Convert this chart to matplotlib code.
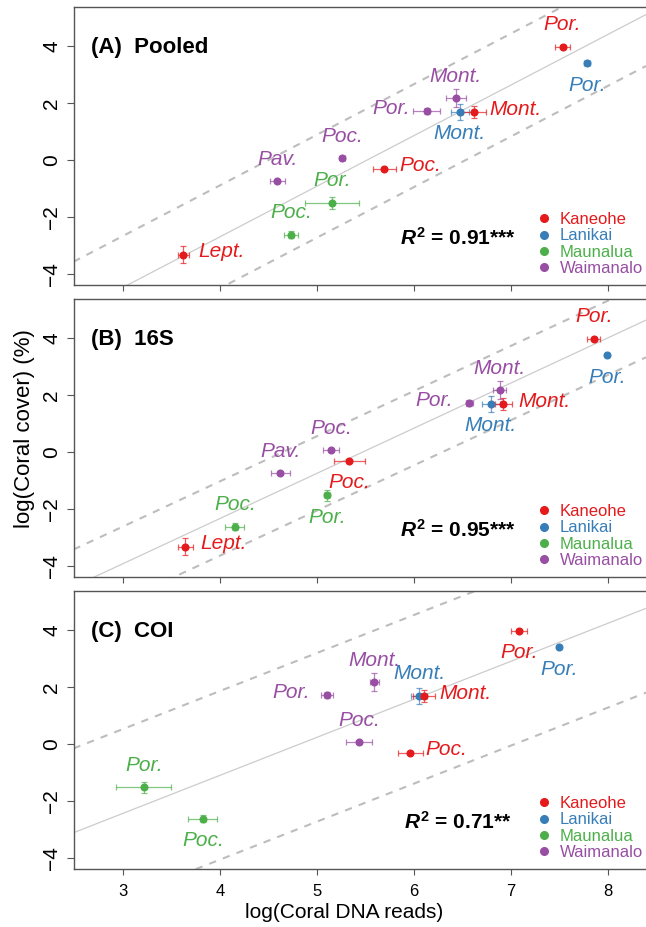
import numpy as np
import matplotlib
matplotlib.use('Agg')
import matplotlib.pyplot as plt
from matplotlib.lines import Line2D

plt.rcParams['font.family'] = ['Liberation Sans', 'DejaVu Sans']
plt.rcParams['mathtext.fontset'] = 'custom'
plt.rcParams['mathtext.it'] = 'Liberation Sans:italic:bold'
plt.rcParams['mathtext.bf'] = 'Liberation Sans:bold'
plt.rcParams['mathtext.rm'] = 'Liberation Sans:bold'

# ------------------------------------------------ data ------------------------------------------------
sites = ['Kaneohe', 'Lanikai', 'Waimanalo', 'Waimanalo', 'Lanikai', 'Kaneohe',
         'Waimanalo', 'Kaneohe', 'Waimanalo', 'Maunalua', 'Maunalua', 'Kaneohe']
genera = ['Por.', 'Por.', 'Mont.', 'Por.', 'Mont.', 'Mont.',
          'Poc.', 'Poc.', 'Pav.', 'Por.', 'Poc.', 'Lept.']

# log(coral cover) is the same for the three panels
cover = [3.97, 3.40, 2.16, 1.72, 1.69, 1.68, 0.06, -0.30, -0.75, -1.51, -2.61, -3.31]
cover_err = [0.05, 0.04, 0.32, 0.10, 0.28, 0.20, 0.05, 0.06, 0.06, 0.20, 0.12, 0.30]

# log(coral DNA reads) per marker
pooled_reads = [7.53, 7.78, 6.43, 6.13, 6.47, 6.62, 5.26, 5.69, 4.59, 5.15, 4.73, 3.62]
pooled_err = [0.08, 0.03, 0.10, 0.14, 0.09, 0.12, 0.03, 0.12, 0.08, 0.28, 0.07, 0.06]
s16_reads = [7.85, 7.99, 6.88, 6.57, 6.79, 6.92, 5.14, 5.33, 4.62, 5.10, 4.15, 3.64]
s16_err = [0.07, 0.02, 0.07, 0.04, 0.09, 0.09, 0.08, 0.16, 0.10, 0.03, 0.10, 0.08]
coi_reads = [7.08, 7.49, 5.59, 5.10, 6.05, 6.10, 5.43, 5.96, np.nan, 3.21, 3.82, np.nan]
coi_err = [0.08, 0.02, 0.05, 0.06, 0.08, 0.11, 0.13, 0.13, np.nan, 0.28, 0.15, np.nan]

# where each genus label sits relative to its point
pooled_pos = ['above', 'below', 'above', 'left', 'below', 'right',
              'above', 'right', 'above', 'above', 'above', 'right']
s16_pos = ['above', 'below', 'above', 'left', 'below', 'right',
           'above', 'below', 'above', 'below', 'above', 'right']
coi_pos = ['below', 'below', 'above', 'left', 'above', 'right',
           'above', 'right', None, 'above', 'below', None]

panel_titles = ['(A)  Pooled', '(B)  16S', '(C)  COI']
r2_labels = ['0.91***', '0.95***', '0.71**']

# regression line and interval
fit_slope = [1.77, 1.58, 1.33]
fit_intercept = [-9.76, -8.64, -6.41]
fit_band = [1.80, 1.30, 2.95]

site_names = ['Kaneohe', 'Lanikai', 'Maunalua', 'Waimanalo']
site_colors = {'Kaneohe': '#e41a1c', 'Lanikai': '#377eb8',
               'Maunalua': '#4daf4a', 'Waimanalo': '#984ea3'}

# offsets (points) for the genus labels
offsets = {'above': (0, 16, 'center'), 'below': (0, -16, 'center'),
           'right': (11, 2, 'left'), 'left': (-12, 2, 'right')}

panels = [(pooled_reads, pooled_err, pooled_pos),
          (s16_reads, s16_err, s16_pos),
          (coi_reads, coi_err, coi_pos)]

# ------------------------------------------------ figure ------------------------------------------------
fig = plt.figure(figsize=(6.46, 9.27), dpi=100)
bottoms = [0.6926, 0.3776, 0.0626]
xlim = (2.487, 8.39)
ylim = (-4.37, 5.36)

for i, (reads, rerr, pos) in enumerate(panels):
    ax = fig.add_axes([0.1138, bottoms[i], 0.8862, 0.300])
    ax.set_xlim(xlim)
    ax.set_ylim(ylim)

    # fit line and dashed interval
    xx = np.array(xlim)
    yy = fit_intercept[i] + fit_slope[i] * xx
    ax.plot(xx, yy, color='#cccccc', lw=0.9, zorder=1)
    ax.plot(xx, yy + fit_band[i], color='#bdbdbd', lw=1.5, ls=(0, (3.5, 3.5)), zorder=1)
    ax.plot(xx, yy - fit_band[i], color='#bdbdbd', lw=1.5, ls=(0, (3.5, 3.5)), zorder=1)

    for k in range(len(sites)):
        if np.isnan(reads[k]):
            continue
        c = site_colors[sites[k]]
        eb = ax.errorbar(reads[k], cover[k], xerr=rerr[k], yerr=cover_err[k], fmt='o',
                         color=c, ms=4.8, ecolor=c, elinewidth=0.9, capsize=2.5,
                         capthick=0.9, zorder=3)
        for part in eb.lines[1] + eb.lines[2]:
            part.set_alpha(0.7)
        dx, dy, ha = offsets[pos[k]]
        ax.annotate(genera[k], (reads[k], cover[k]), xytext=(dx, dy),
                    textcoords='offset points', ha=ha, va='center',
                    fontsize=15, style='italic', color=c, zorder=4)

    ax.text(0.03, 0.855, panel_titles[i], transform=ax.transAxes,
            fontsize=16, fontweight='bold', va='center', ha='left')
    ax.text(0.671, 0.17, r'$\mathit{R}^{\mathbf{2}}$ = ' + r2_labels[i],
            transform=ax.transAxes, fontsize=15, fontweight='bold',
            ha='center', va='center')

    handles = [Line2D([], [], ls='none', marker='o', ms=5.5, color=site_colors[s])
               for s in site_names]
    leg = ax.legend(handles, site_names, loc='upper left',
                    bbox_to_anchor=(0.810, 0.262), frameon=False, fontsize=12,
                    handlelength=0.8, handletextpad=0.56, labelspacing=0.08,
                    borderpad=0, borderaxespad=0)
    for t, s in zip(leg.get_texts(), site_names):
        t.set_color(site_colors[s])

    ax.set_xticks([3, 4, 5, 6, 7, 8])
    ax.set_yticks([-4, -2, 0, 2, 4])
    ax.set_yticklabels(['\u22124', '\u22122', '0', '2', '4'], rotation=90, va='center')
    ax.tick_params(axis='y', length=5, width=0.8, color='#555555', labelsize=15, pad=4)
    ax.tick_params(axis='x', length=4, width=0.8, color='#555555', labelsize=12, pad=7)
    if i < 2:
        ax.tick_params(axis='x', labelbottom=False)
    for side in ['left', 'bottom', 'top']:
        ax.spines[side].set_color('#555555')
        ax.spines[side].set_linewidth(1.0)
    ax.spines['right'].set_visible(False)

fig.text(25 / 646, 1 - 429 / 927, 'log(Coral cover) (%)', rotation=90,
         fontsize=16, ha='center', va='center')
fig.text(344 / 646, 1 - 913 / 927, 'log(Coral DNA reads)', fontsize=15,
         ha='center', va='center')

fig.savefig('out.png', dpi=100)
